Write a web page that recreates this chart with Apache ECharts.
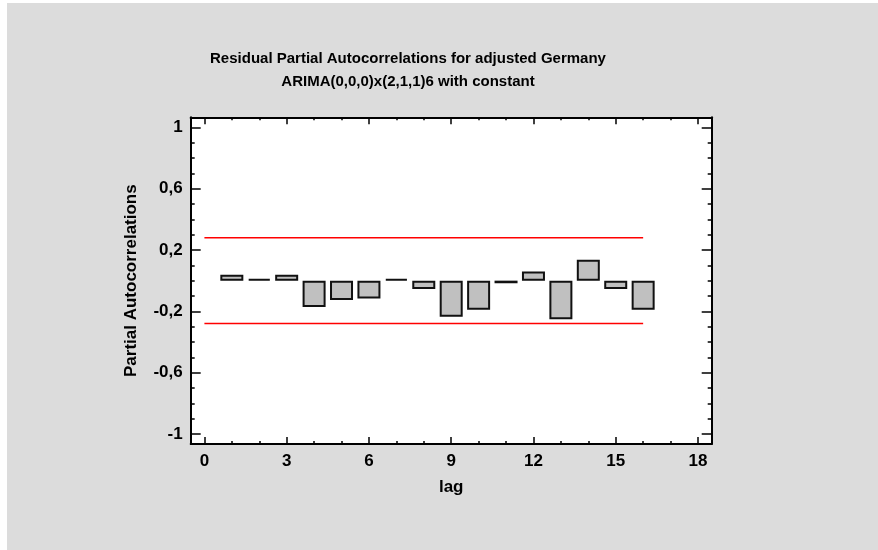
<!DOCTYPE html>
<html>
<head>
<meta charset="utf-8">
<script src="https://cdn.jsdelivr.net/npm/echarts@6/dist/echarts.min.js"></script>
<style>
html,body{margin:0;padding:0;background:#ffffff;}
#bg{position:absolute;left:7px;top:3px;width:871px;height:547px;background:#dcdcdc;}
#chart{position:absolute;left:0;top:0;width:878px;height:550px;}
</style>
</head>
<body>
<div id="bg"></div>
<div id="chart"></div>
<script>
// ---- data ----
const lags = [1,2,3,4,5,6,7,8,9,10,11,12,13,14,15,16];
const pacf = [0.039,0.012,0.039,-0.172,-0.126,-0.117,0.012,-0.054,-0.235,-0.189,-0.017,0.059,-0.252,0.137,-0.054,-0.189];
const upperLimit = 0.28;
const lowerLimit = -0.28;
const limitRange = [0, 16];
const xMajorTicks = [0,3,6,9,12,15,18];
const xMinorTicks = [0,1,2,3,4,5,6,7,8,9,10,11,12,13,14,15,16,17,18];
const yMajorTicks = [-1,-0.6,-0.2,0.2,0.6,1];
const yMinorTicks = [-1,-0.9,-0.8,-0.7,-0.6,-0.5,-0.4,-0.3,-0.2,-0.1,0,0.1,0.2,0.3,0.4,0.5,0.6,0.7,0.8,0.9,1];
const titleLines = ['Residual Partial Autocorrelations for adjusted Germany','ARIMA(0,0,0)x(2,1,1)6 with constant'];

const FONT = '"Liberation Sans", Arial, Helvetica, sans-serif';
const chart = echarts.init(document.getElementById('chart'), null, {renderer:'canvas'});

function xAx(pos, ticks, len, showLine, showLabel, name) {
  return {
    type:'value', position:pos, min:-0.5, max:18.5,
    axisLine:{show:showLine, onZero:false, lineStyle:{color:'#000', width:2}},
    axisTick:{show:true, inside:true, length:len, customValues:ticks, lineStyle:{color:'#000', width:1.5}},
    axisLabel:{show:showLabel, customValues:ticks, margin:9, color:'#000', fontFamily:FONT, fontWeight:'bold', fontSize:17},
    splitLine:{show:false},
    name: name || '', nameLocation:'middle', nameGap:34.5,
    nameTextStyle:{color:'#000', fontFamily:FONT, fontWeight:'bold', fontSize:17}
  };
}
function yAx(pos, ticks, len, showLine, showLabel, name) {
  return {
    type:'value', position:pos, min:-1.065, max:1.065,
    axisLine:{show:showLine, onZero:false, lineStyle:{color:'#000', width:2}},
    axisTick:{show:true, inside:true, length:len, customValues:ticks, lineStyle:{color:'#000', width:1.5}},
    axisLabel:{show:showLabel, customValues:ticks, margin:8, color:'#000', fontFamily:FONT, fontWeight:'bold', fontSize:17,
      formatter: v => String(v).replace('.', ',')},
    splitLine:{show:false},
    name: name || '', nameLocation:'middle', nameGap:51,
    nameTextStyle:{color:'#000', fontFamily:FONT, fontWeight:'bold', fontSize:17}
  };
}

const option = {
  backgroundColor:'transparent',
  animation:false,
  title:{
    text: titleLines.join('\n'),
    left:408, top:47.5, textAlign:'center', padding:0,
    textStyle:{color:'#000', fontFamily:FONT, fontWeight:'bold', fontSize:15, lineHeight:23}
  },
  grid:{left:190.7, top:117.3, right:166.3, bottom:106, show:true, backgroundColor:'#ffffff', borderWidth:0},
  xAxis:[
    xAx('bottom', xMajorTicks, 7, true, true, 'lag'),
    xAx('bottom', xMinorTicks, 3, false, false),
    xAx('top', xMajorTicks, 7, true, false),
    xAx('top', xMinorTicks, 3, false, false)
  ],
  yAxis:[
    yAx('left', yMajorTicks, 10, true, true, 'Partial Autocorrelations'),
    yAx('left', yMinorTicks, 4, false, false),
    yAx('right', yMajorTicks, 10, true, false),
    yAx('right', yMinorTicks, 4, false, false)
  ],
  series:[
    {
      type:'bar', xAxisIndex:0, yAxisIndex:0,
      barWidth:23,
      data: lags.map((l,i)=>[l, pacf[i]]),
      itemStyle:{color:'#c0c0c0', borderColor:'#111', borderWidth:2},
      silent:true
    },
    {
      type:'line', xAxisIndex:0, yAxisIndex:0, symbol:'none',
      data: limitRange.map(x=>[x, upperLimit]),
      lineStyle:{color:'#ff0000', width:1.5}, silent:true
    },
    {
      type:'line', xAxisIndex:0, yAxisIndex:0, symbol:'none',
      data: limitRange.map(x=>[x, lowerLimit]),
      lineStyle:{color:'#ff0000', width:1.5}, silent:true
    }
  ]
};
chart.setOption(option);
</script>
</body>
</html>
